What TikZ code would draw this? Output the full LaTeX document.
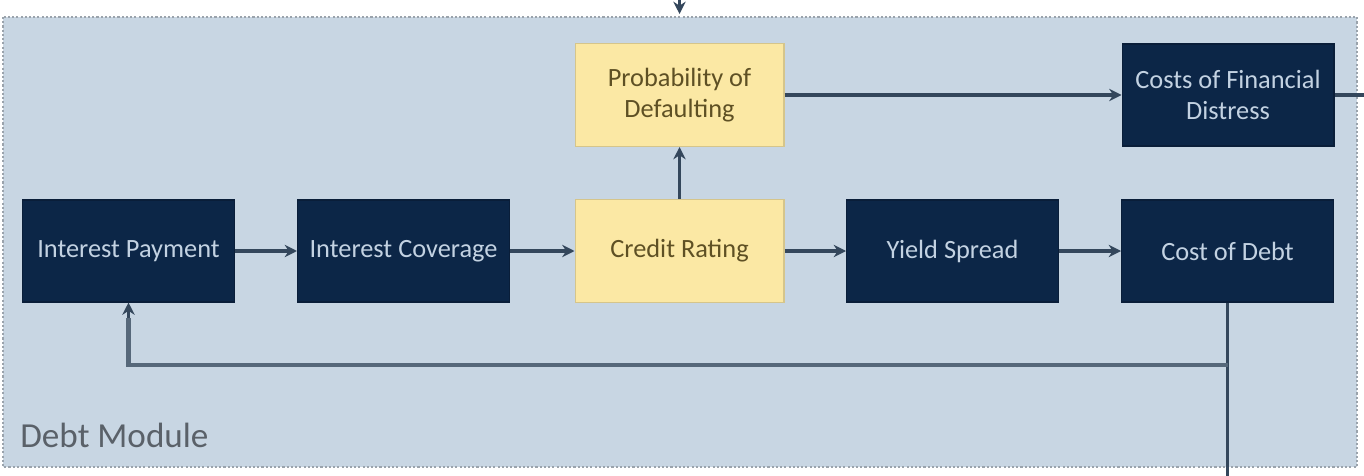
\documentclass[tikz,border=0pt]{standalone}
\usepackage{fontspec}
\setmainfont{Carlito}
\usetikzlibrary{arrows.meta}
\definecolor{modfill}{HTML}{C8D6E3}
\definecolor{modline}{HTML}{9AA3AC}
\definecolor{navy}{HTML}{0C2647}
\definecolor{navytext}{HTML}{C3D2E2}
\definecolor{yel}{HTML}{FBE8A4}
\definecolor{yeltext}{HTML}{5E5024}
\definecolor{arr}{HTML}{34475C}
\definecolor{fb}{HTML}{56687A}
\definecolor{lbl}{HTML}{5A6169}
\tikzset{
  boxfont/.style={font=\fontsize{15}{18}\selectfont},
  darkbox/.style={fill=navy, draw=navy!80!black, line width=0.6pt, text=navytext, minimum width=4.24cm, minimum height=2.04cm, inner sep=1pt, align=center, boxfont},
  yelbox/.style={fill=yel, draw=yel!85!black, line width=0.6pt, text=yeltext, minimum width=4.18cm, minimum height=2.06cm, inner sep=1pt, align=center, boxfont},
  conn/.style={draw=arr, line width=2pt, -{Stealth[length=7pt,width=7pt]}},
  feed/.style={draw=fb, line width=2.8pt},
}
\begin{document}
\begin{tikzpicture}[x=0.02cm,y=-0.02cm]
\useasboundingbox (0,0) rectangle (1364,476);
\fill[white] (0,0) rectangle (1364,476);
\draw[modline, fill=modfill, line width=1.2pt, dash pattern=on 1.2pt off 1.2pt] (3,17) rectangle (1357,467);
\node[anchor=south west, text=lbl, font=\fontsize{20}{24}\selectfont, inner sep=0pt] (lab) at (20,448) {Debt Module};

\node[darkbox] (ip) at (128.5,251) {Interest Payment};
\node[darkbox] (ic) at (403.5,251) {Interest Coverage};
\node[yelbox] (cr) at (679.5,251) {Credit Rating};
\node[yelbox] (pd) at (679.5,95) {Probability of\\Defaulting};
\node[darkbox] (ys) at (952.5,251) {Yield Spread};
\node[darkbox] (cd) at (1227.5,251) {Cost of Debt};
\node[darkbox] (cfd) at (1228,95) {Costs of Financial\\Distress};

\coordinate (topin) at (679.5,0);
\coordinate (topend) at (679.5,14);
\coordinate (rightout) at (1364,95);
\coordinate (botout) at (1227.5,476);
\coordinate (fbturn) at (1227.5,365);

\draw[conn] (topin) -- (topend);
\draw[conn] (ip) -- (ic);
\draw[conn] (ic) -- (cr);
\draw[conn] (cr) -- (ys);
\draw[conn] (ys) -- (cd);
\draw[conn] (cr) -- (pd);
\draw[conn] (pd) -- (cfd);
\draw[draw=arr, line width=2pt] (cfd.east) -- (rightout);
\draw[draw=arr, line width=2pt] (cd.south) -- (botout);
\draw[feed] (fbturn) -| ([yshift=-0.3cm]ip.south);
\draw[conn, line width=1.5pt] ([yshift=-0.3cm]ip.south) -- (ip.south);
\end{tikzpicture}
\end{document}
